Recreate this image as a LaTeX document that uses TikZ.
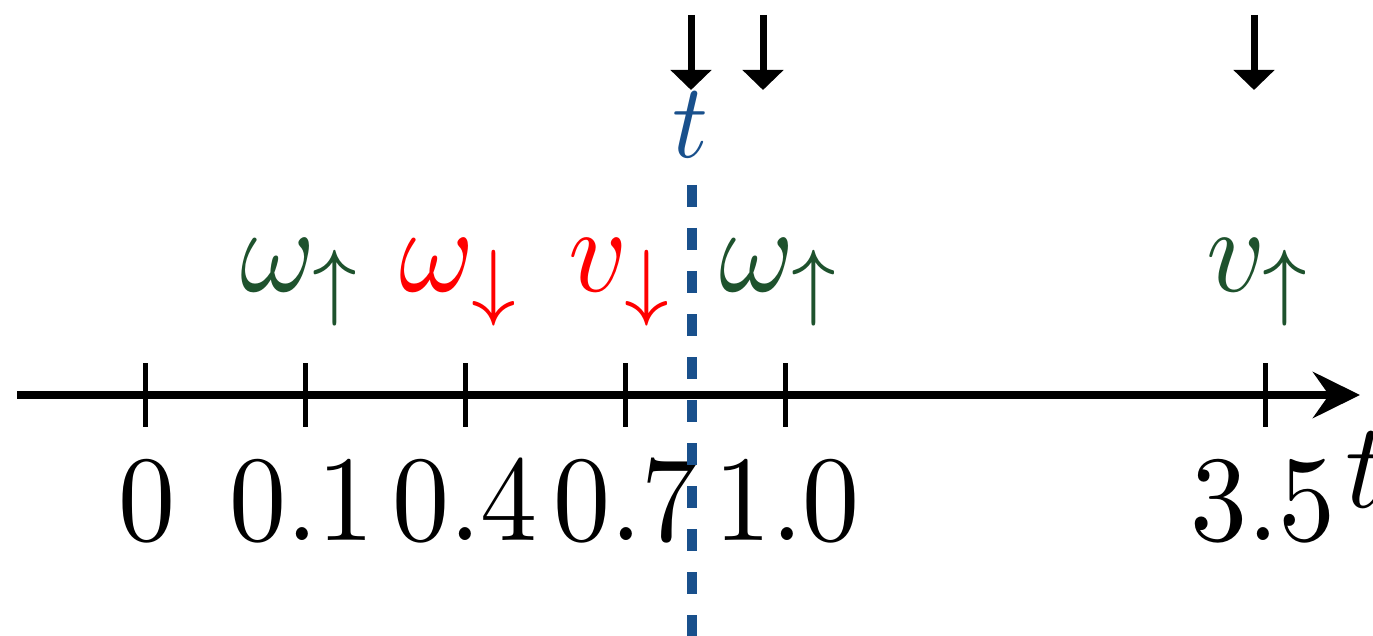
\documentclass[tikz,border=0pt]{standalone}
\usetikzlibrary{arrows.meta}
\definecolor{darkgreen}{RGB}{30,82,45}
\definecolor{markblue}{RGB}{25,80,140}
\begin{document}
\begin{tikzpicture}[x=1pt, y=-1pt,
    big/.style = {inner sep=0pt, anchor=base, font=\fontsize{10}{12}\selectfont, xscale=11.4, yscale=12.2},
    tickmark/.style = {line width=5pt},
    event/.style = {line width=7pt, -{Triangle[length=20pt,width=40pt]}},
    nowline/.style = {markblue, line width=10pt, dash pattern=on 22pt off 21pt}]
  \useasboundingbox (0,0) rectangle (1373,636);

  % time axis
  \coordinate (start) at (17,395);
  \coordinate (end) at (1360,395);
  \draw [line width=8.5pt, -{Stealth[length=47pt,width=46pt,inset=16pt]}] (start) -- (end);
  \node[big] (axis) at (1366,507) {$t$};

  % ticks and their values
  \coordinate (k0) at (145,395);
  \coordinate (k1) at (305,395);
  \coordinate (k2) at (465,395);
  \coordinate (k3) at (625,395);
  \coordinate (k4) at (785,395);
  \coordinate (k5) at (1265,395);
  \foreach \k in {k0,k1,k2,k3,k4,k5}
    \draw [tickmark] (\k) ++(0,-32) -- ++(0,64);

  \node[big] (v0) at (147,540) {$0$};
  \node[big] (v1) at (302,540) {$0.1$};
  \node[big] (v2) at (465,540) {$0.4$};
  \node[big] (v3) at (626,540) {$0.7$};
  \node[big] (v4) at (787,540) {$1.0$};
  \node[big] (v5) at (1263,540) {$3.5$};

  % updates above the axis
  \node[big, darkgreen] (w1) at (302,291) {$\omega_\uparrow$};
  \node[big, red] (w2) at (461,291) {$\omega_\downarrow$};
  \node[big, red] (u1) at (622,291) {$v_\downarrow$};
  \node[big, darkgreen] (w3) at (781,291) {$\omega_\uparrow$};
  \node[big, darkgreen] (u2) at (1260,291) {$v_\uparrow$};

  % incoming events
  \coordinate (e1) at (691,15);  \coordinate (e1tip) at (691,90);
  \coordinate (e2) at (763,15);  \coordinate (e2tip) at (763,90);
  \coordinate (e3) at (1254,15); \coordinate (e3tip) at (1254,90);
  \draw [event] (e1) -- (e1tip);
  \draw [event] (e2) -- (e2tip);
  \draw [event] (e3) -- (e3tip);

  % current time
  \node[big, markblue, xscale=0.87, yscale=0.87] (now) at (690,158) {$t$};
  \coordinate (nowtop) at (692,185);
  \coordinate (nowbot) at (692,636);
  \draw [nowline] (nowtop) -- (nowbot);
\end{tikzpicture}
\end{document}
